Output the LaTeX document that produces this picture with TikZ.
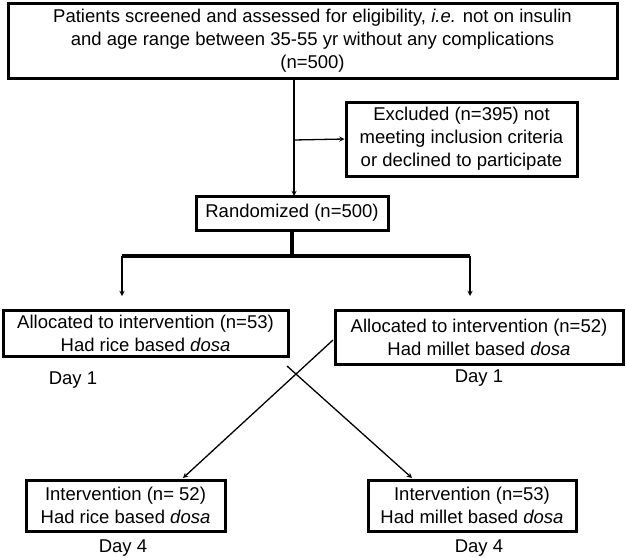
\documentclass[tikz,border=0pt]{standalone}
\usepackage{fontspec}
\setmainfont{Liberation Sans}
\begin{document}
\begin{tikzpicture}[x=1pt,y=-1pt,
  box/.style={draw,line width=3pt,align=center,inner sep=0pt,font=\fontsize{18.5}{23}\selectfont},
  lab/.style={font=\fontsize{18.5}{23}\selectfont},
  arr/.style={-stealth,line width=1.3pt}]
\useasboundingbox (0,0) rectangle (626,557);
\node[box,minimum width=609,minimum height=75] (top) at (312.5,40.5) {Patients screened and assessed for eligibility, \textit{i.e.} not on insulin\\and age range between 35-55 yr without any complications\\(n=500)};
\node[box,minimum width=231,minimum height=74] (exc) at (461.5,139) {Excluded (n=395) not\\meeting inclusion criteria\\or declined to participate};
\node[box,minimum width=192,minimum height=34] (ran) at (292,213) {Randomized (n=500)};
\node[box,minimum width=285,minimum height=46] (al) at (145.5,333) {Allocated to intervention (n=53)\\Had rice based \textit{dosa}};
\node[box,minimum width=288,minimum height=54] (ar) at (479,337) {Allocated to intervention (n=52)\\Had millet based \textit{dosa}};
\node[lab] (d1l) at (73,380) {Day 1};
\node[lab] (d1r) at (479,378) {Day 1};
\node[box,minimum width=199,minimum height=51] (bl) at (125.5,505.5) {Intervention (n= 52)\\Had rice based \textit{dosa}};
\node[box,minimum width=208,minimum height=51] (br) at (472,505.5) {Intervention (n=53)\\Had millet based \textit{dosa}};
\node[lab] (d4l) at (123,548) {Day 4};
\node[lab] (d4r) at (479,548) {Day 4};
\coordinate (j) at (294,140);
\draw[arr] (294,78) -- (294,196);
\draw[arr] (j) -- (exc.west);
\draw[line width=3.5pt] (ran.south) -- (292,256);
\draw[line width=3.5pt] (122,256) -- (470,256);
\draw[arr] (122,256) -- (122,296);
\draw[arr] (470,256) -- (470,296);
\draw[arr] (333,340) -- (183,478);
\draw[arr] (287,366) -- (412,478);
\end{tikzpicture}
\end{document}
